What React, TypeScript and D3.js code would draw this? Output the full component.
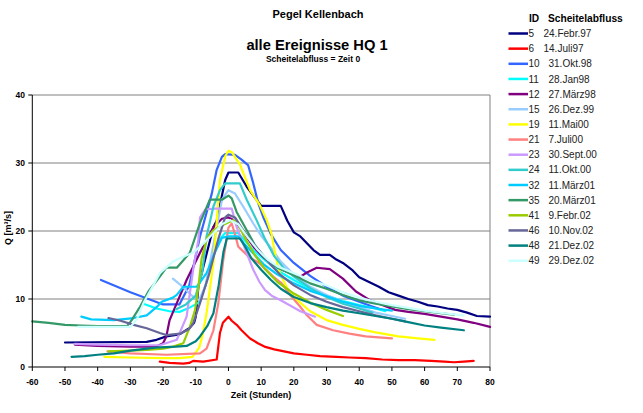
import React from "react";
import * as d3 from "d3";

const title1 = "Pegel Kellenbach";
const title2 = "alle Ereignisse HQ 1";
const title3 = "Scheitelabfluss = Zeit 0";
const xTitle = "Zeit (Stunden)";
const yTitle = "Q [m³/s]";
const legendHeadId = "ID";
const legendHeadDate = "Scheitelabfluss";

const xTicks = [-60, -50, -40, -30, -20, -10, 0, 10, 20, 30, 40, 50, 60, 70, 80];
const yTicks = [0, 10, 20, 30, 40];

const ids = ["5", "6", "10", "11", "12", "15", "19", "21", "23", "24", "32", "35", "41", "46", "48", "49"];
const dates = ["24.Febr.97", "14.Juli97", "31.Okt.98", "28.Jan98", "27.März98", "26.Dez.99", "11.Mai00", "7.Juli00", "30.Sept.00", "11.Okt.00", "11.März01", "20.März01", "9.Febr.02", "10.Nov.02", "21.Dez.02", "29.Dez.02"];
const colors = ["#000080", "#FF0000", "#3366FF", "#00FFFF", "#800080", "#99CCFF", "#FFFF00", "#FF8080", "#CC99FF", "#33CCCC", "#00CCFF", "#339966", "#99CC00", "#666699", "#008080", "#CCFFFF"];

const s5 = [[-50,3.6],[-25,3.7],[-22,4.0],[-19,4.5],[-15,4.8],[-12,5.7],[-10.5,6.5],[-10,7.4],[-9.2,11.8],[-7.7,14.7],[-4.6,20.6],[-3.6,21.5],[-1,27.5],[0,28.6],[3,28.6],[5.6,26.5],[8.6,24.6],[10,23.7],[16,23.7],[18,21.5],[20,19.8],[22,19.2],[24,18.2],[26,17.2],[28,16.5],[31,16.5],[33,15.8],[35,15.3],[38,14.2],[40,13.2],[43,12.5],[46,11.8],[49,11.0],[52,10.5],[55,10.0],[58,9.6],[61,9.1],[64,8.9],[67,8.6],[70,8.4],[73,8.0],[76,7.5],[80,7.4]];
const s6 = [[-21,0.8],[-18,0.6],[-13.8,0.5],[-12,0.6],[-10.8,0.9],[-7.7,0.8],[-3.6,1.1],[-2.6,5.0],[-1.7,6.5],[0,7.4],[1,6.8],[2.5,6.2],[4,5.4],[6.6,4.2],[9,3.5],[11,3.0],[14,2.6],[17,2.3],[20,2.0],[24,1.8],[28,1.6],[33,1.5],[37,1.4],[42,1.3],[47,1.1],[52,1.0],[57,1.0],[62,0.9],[66,0.8],[69,0.7],[72,0.8],[75,0.9]];
const s10 = [[-39,12.8],[-30,11],[-20,9.2],[-15,9.2],[-12,12],[-8.7,19.2],[-5.1,25.5],[-3.6,29],[-2,30.9],[-1,31.3],[2,31.2],[4,30.5],[6,29.7],[7.6,27],[9.1,24.1],[10.6,22.1],[13,19.5],[16,17.2],[20,15.3],[25,13.4],[30,11.8],[35,10.5],[40,9.6],[44,8.9],[47,8.4]];
const s11 = [[-26,9.3],[-22,8.6],[-18,8.2],[-15,8.1],[-12,8.7],[-9,9.5],[-7,12],[-5,16],[-3,18.6],[-1,19.7],[3,19.7],[5,18.6],[8,17],[11,15.8],[15,14.2],[20,12.8],[25,11.5],[30,10.5],[35,9.7],[40,9.1],[45,8.6],[48,8.2]];
const s12 = [[-47,3.3],[-40,3.1],[-30,3.0],[-22,3.0],[-20,3.5],[-19,4.5],[-18,6.9],[-15.8,9.4],[-12.8,12.8],[-8.7,16.8],[-4.6,20.6],[-2,21.8],[0,22.0],[2,21.5],[5,19.5],[8,17.5],[11,16],[14,15],[17,14.2],[20,13.6],[22,13.3],[24,13.9],[27,14.6],[31,14.4],[35,13],[39,11.1],[43,9.9],[46,9.3],[51,8.4],[55,8.1],[60,7.8],[65,7.4],[70,7.0],[75,6.5],[80,5.9]];
const s15 = [[-17,13],[-14,11.8],[-11,10.4],[-9,9.8],[-7,12],[-5,17],[-3,22],[-2,24.6],[0,26],[2,25.5],[4.5,23.6],[7.6,21.1],[10,19.3],[13,17.5],[16,15.5],[20,13.6],[25,11.8],[30,10.6],[35,9.6],[40,8.8],[45,8.0],[50,7.5],[54,7.1]];
const s19 = [[-38,1.5],[-30,1.4],[-20,1.3],[-15,1.3],[-11,1.5],[-9,2.8],[-8,4.5],[-6.7,7.9],[-4.6,15.3],[-2.6,27.5],[-1,31],[0,31.8],[1,31.6],[3.5,29.8],[6.6,26],[9.6,23.8],[11.7,21.6],[13.2,19.5],[14.5,16],[15.7,13.8],[18,11.6],[20.9,9.9],[25,8.2],[30,6.9],[35,6.2],[40,5.6],[45,5.1],[52,4.5],[58,4.2],[63,4.0]];
const s21 = [[-37,2.3],[-30,2.0],[-19,1.8],[-8.7,2.0],[-6.7,2.7],[-4.6,5.4],[-3.1,9.4],[-1.6,15.7],[0,20.5],[1,21.1],[2,19.5],[3,17.7],[6,16.3],[9.6,15.2],[13.7,13.3],[16.3,12.3],[19,10.5],[21.9,8.9],[24,7.6],[27,6.2],[32,5.4],[37,4.9],[42,4.5],[50,4.2]];
const s23 = [[-47,3.4],[-40,3.3],[-30,3.2],[-21,3.2],[-15.8,4],[-12.8,7.4],[-10.8,14.3],[-9.2,18.7],[-8.7,22.0],[-7,23.2],[-4,23.3],[1,23.3],[2.5,20.6],[5.6,16.7],[7.6,14.3],[9.5,12.5],[11.2,11.3],[13.5,10.4],[15.7,9.9],[19,9.0],[22,8.2],[26.5,7.4]];
const s24 = [[-16,8.5],[-13,9.2],[-10,10.5],[-8,14],[-6.7,19.2],[-4.6,23.6],[-2.6,26],[-1,27],[3.5,27],[5.6,24.6],[8.6,21.6],[11,19],[14,16.3],[17,14.5],[20,13.3],[25,11.6],[30,10.3],[35,9.3],[40,8.6],[44,8.0]];
const s32 = [[-45,7.4],[-42,7.0],[-35,6.9],[-29,7.2],[-25,7.6],[-22,8.8],[-20.4,9.6],[-17,10.2],[-15.8,10.6],[-13.8,11.8],[-9.7,11.8],[-6.7,13.8],[-4,17],[-2,19],[0,19.2],[3,19.2],[5,18],[8,16.5],[11,15],[15,13.6],[20,12.3],[25,11.2],[30,10.4],[35,9.6],[40,9.0],[45,8.6],[50,8.3]];
const s35 = [[-60,6.7],[-55,6.5],[-50,6.2],[-45,6.1],[-40,6.0],[-35,6.0],[-31,6.0],[-29.6,6.9],[-27,8.9],[-24.5,11.1],[-21,13.3],[-19,14.6],[-15.8,14.6],[-11.8,16.8],[-8.7,21.2],[-5.7,24.6],[-2,24.6],[0,25.2],[1,24.8],[2.5,22.8],[5.6,20.1],[8,18],[11,16],[15,14.6],[20,13.5],[25,12.3],[30,11.5],[35,10.6],[40,9.8],[45,9.3],[50,8.9],[55,8.5],[60,8.2],[65,7.9],[69,7.7]];
const s41 = [[-36.7,2.3],[-30,2.4],[-25,2.5],[-20,2.7],[-16.9,3.0],[-13.8,3.5],[-11.8,5.9],[-10.2,8.4],[-9.2,11.8],[-8.2,16],[-6.5,19],[-4.6,20.1],[-2,20.8],[1.5,21.6],[3,21],[5,19],[8,16.5],[11,14.5],[15,12.5],[20,10.8],[25,9.5],[30,8.4],[35,7.5]];
const s46 = [[-36.7,7.2],[-33,6.8],[-29,6.2],[-25,5.7],[-21,5.0],[-19,4.7],[-14.8,4.9],[-12,5.6],[-10.8,6.4],[-8.7,9.4],[-6,13.5],[-3,19],[-1,22],[0,22.4],[2,22],[4,20.5],[7,18.5],[10,16.8],[13,15],[16,13.5],[20,12],[25,10.6],[30,9.6],[35,8.8],[40,8.2],[45,7.6],[50,7.1],[54,6.7]];
const s48 = [[-48,1.5],[-44,1.6],[-40,1.8],[-35,2.0],[-30,2.4],[-25,2.7],[-21,2.9],[-16,3.0],[-12.8,3.1],[-10,3.8],[-8.7,4.5],[-6.5,6],[-4.6,7.9],[-3,12],[-1.5,17],[-0.5,18.9],[3.5,18.9],[5,17.8],[7,16],[10,14.3],[13,12.8],[16,11.5],[20,10.3],[25,9.4],[30,8.8],[35,8.3],[40,7.9],[45,7.5],[50,7.1],[55,6.6],[60,6.1],[65,5.8],[72,5.4]];
const s49 = [[-46,5.9],[-40,5.9],[-30,5.9],[-28,7],[-26,9.4],[-23,12],[-21,13.8],[-17,15.5],[-13,16.4],[-10.8,16.8],[-8,18],[-5,19.5],[-2,21],[0.5,21.6],[3,21],[6,19],[9,17.2],[12,15.8],[15,14.8],[20,13.8],[25,12.8],[30,12.0],[35,11.0],[40,10.2],[45,9.6],[50,9.1],[55,8.7],[60,8.3],[66,7.9],[72,7.6]];

const seriesData = [s5, s6, s10, s11, s12, s15, s19, s21, s23, s24, s32, s35, s41, s46, s48, s49];

const W = 643;
const H = 413;
const FONT = "'Liberation Sans', Arial, sans-serif";

export default function App() {
  const x = d3.scaleLinear().domain([-60, 80]).range([32.3, 490]);
  const y = d3.scaleLinear().domain([0, 40]).range([367, 95]);
  const line = d3.line<number[]>().x((d) => x(d[0])).y((d) => y(d[1]));
  const [x0, x1] = x.range();
  const [y0, y1] = y.range();
  const legY = (i: number) => 33.5 + i * 15.15;

  return (
    <svg width={W} height={H} style={{ position: "absolute", left: 0, top: 0, background: "#fff" }} fontFamily={FONT}>
      <rect x={0} y={0} width={W} height={H} fill="#fff" />
      {/* titles */}
      <text x={318} y={18} textAnchor="middle" fontSize={11} fontWeight="bold">{title1}</text>
      <text x={317} y={50} textAnchor="middle" fontSize={14.7} fontWeight="bold">{title2}</text>
      <text x={313} y={62} textAnchor="middle" fontSize={8.5} fontWeight="bold">{title3}</text>

      {/* grid */}
      {yTicks.filter((t) => t > 0).map((t) => (
        <line key={"g" + t} x1={x0} x2={x1} y1={y(t)} y2={y(t)} stroke="#808080" strokeWidth={1} />
      ))}
      <line x1={x1} x2={x1} y1={y1} y2={y0} stroke="#808080" strokeWidth={1} />

      {/* series */}
      <g fill="none" strokeWidth={2.2} strokeLinejoin="round" strokeLinecap="round">
        {seriesData.map((s, i) => (
          <path key={ids[i]} d={line(s) || ""} stroke={colors[i]} />
        ))}
      </g>

      {/* axes */}
      <line x1={x0} x2={x0} y1={y1} y2={y0} stroke="#000" strokeWidth={1} />
      <line x1={x0} x2={x1} y1={y0} y2={y0} stroke="#000" strokeWidth={1} />
      {xTicks.map((t) => (
        <g key={"xt" + t}>
          <line x1={x(t)} x2={x(t)} y1={y0} y2={y0 + 4} stroke="#000" />
          <text x={x(t)} y={385} textAnchor="middle" fontSize={8.5} fontWeight="bold">{t}</text>
        </g>
      ))}
      {yTicks.map((t) => (
        <g key={"yt" + t}>
          <line x1={x0 - 4} x2={x0} y1={y(t)} y2={y(t)} stroke="#000" />
          <text x={25} y={y(t) + 3} textAnchor="end" fontSize={8.5} fontWeight="bold">{t}</text>
        </g>
      ))}
      <text x={261} y={398} textAnchor="middle" fontSize={9} fontWeight="bold">{xTitle}</text>
      <text transform="translate(11,228) rotate(-90)" textAnchor="middle" fontSize={9} fontWeight="bold">{yTitle}</text>

      {/* legend */}
      <text x={529} y={21.5} fontSize={10.2} fontWeight="bold">{legendHeadId}</text>
      <text x={548} y={21.5} fontSize={10.2} fontWeight="bold">{legendHeadDate}</text>
      {ids.map((id, i) => (
        <g key={"lg" + id}>
          <line x1={508.5} x2={528} y1={legY(i)} y2={legY(i)} stroke={colors[i]} strokeWidth={2.5} />
          <text x={528.5} y={legY(i) + 3.6} fontSize={10} fill="#222">{id}</text>
          <text x={id.length > 1 ? 548.5 : 543.5} y={legY(i) + 3.6} fontSize={10} fill="#222">{dates[i]}</text>
        </g>
      ))}
    </svg>
  );
}
